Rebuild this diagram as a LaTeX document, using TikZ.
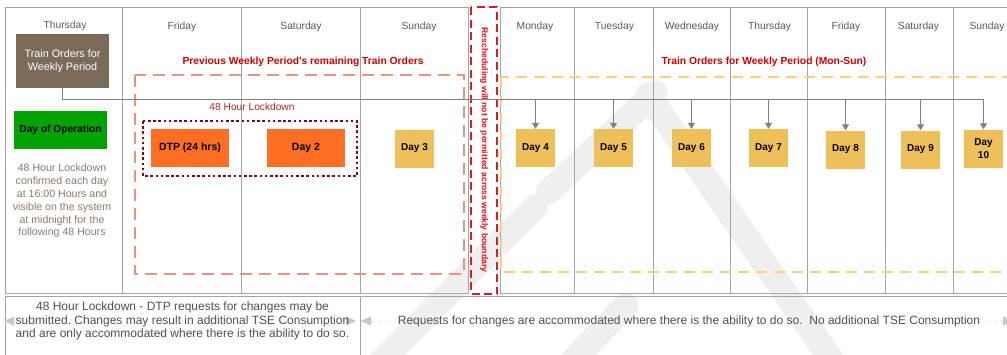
\documentclass[tikz,border=0pt]{standalone}
\usepackage{fontspec}
\setmainfont{Liberation Sans}
\usetikzlibrary{arrows.meta}
\definecolor{gridc}{RGB}{165,165,165}
\definecolor{hdrc}{RGB}{90,90,90}
\definecolor{brownc}{RGB}{123,107,89}
\definecolor{greenc}{RGB}{0,163,0}
\definecolor{orangec}{RGB}{255,110,35}
\definecolor{dayc}{RGB}{237,192,90}
\definecolor{redt}{RGB}{210,0,0}
\definecolor{redv}{RGB}{232,10,20}
\definecolor{dkred}{RGB}{128,10,10}
\definecolor{lockt}{RGB}{165,40,40}
\definecolor{salmonc}{RGB}{228,150,128}
\definecolor{lorange}{RGB}{255,205,130}
\definecolor{redbox}{RGB}{215,30,40}
\definecolor{arrowc}{RGB}{128,128,128}
\definecolor{explc}{RGB}{140,122,104}
\definecolor{bgc}{RGB}{200,200,200}
\definecolor{btext}{RGB}{80,80,80}
\definecolor{wmc}{RGB}{239,239,239}
\frenchspacing
\tikzset{
  gridline/.style={draw=gridc, line width=1pt},
  hdr/.style={text=hdrc, font=\fontsize{10.3}{12}\selectfont, inner sep=0pt},
  daybox/.style={fill=dayc, minimum width=39pt, minimum height=38pt, inner sep=0pt,
    font=\bfseries\fontsize{10}{12.5}\selectfont, align=center},
  orbox/.style={fill=orangec, minimum width=78pt, minimum height=38pt, inner sep=0pt,
    font=\bfseries\fontsize{10.5}{12}\selectfont},
  conn/.style={draw=arrowc, line width=1pt, -{Triangle[width=7pt,length=6pt]}},
  bgtip/.style={draw=bgc, line width=1pt, -{Triangle[width=9pt,length=10pt]}},
  bgdot/.style={draw=bgc, line width=1pt, dash pattern=on 1pt off 5pt},
  wmk/.style={draw=wmc, line width=25pt, line cap=round},
  redtitle/.style={text=redt, font=\bfseries\fontsize{10.3}{12}\selectfont, inner sep=0pt},
  btxt/.style={text=btext, font=\fontsize{12}{13.6}\selectfont, align=center, inner sep=0pt}
}
\begin{document}
\begin{tikzpicture}[x=1pt,y=-1pt]
\useasboundingbox (0,0) rectangle (1007,354);
\clip (0,0) rectangle (1007,354);
\fill[white] (0,0) rectangle (1007,354);
% watermark
\draw[wmk] (655,93) -- (548,192);
\draw[wmk] (648,95) -- (835,365);
\draw[wmk] (535,207) -- (355,387);
\draw[wmk] (626,305) -- (566,368);
% grid
\draw[gridline] (5,7) rectangle (468,293);
\foreach \x in {122,241,360} \draw[gridline] (\x,7) -- (\x,293);
\draw[gridline] (1012,7) -- (500,7) -- (500,293) -- (1012,293);
\foreach \x in {574,653,730,807,885,953} \draw[gridline] (\x,7) -- (\x,293);
\draw[gridline] (5,362) -- (5,296) -- (1012,296);
\draw[gridline] (360,296) -- (360,362);
% headers
\node[hdr] (hthu) at (65,26) {Thursday};
\node[hdr] (hfri) at (182,27) {Friday};
\node[hdr] (hsat) at (301,27) {Saturday};
\node[hdr] (hsun) at (419,27) {Sunday};
\node[hdr] (hmon) at (535,27) {Monday};
\node[hdr] (htue) at (614.5,27) {Tuesday};
\node[hdr] (hwed) at (692,27) {Wednesday};
\node[hdr] (hthu2) at (769.5,27) {Thursday};
\node[hdr] (hfri2) at (846,27) {Friday};
\node[hdr] (hsat2) at (918.5,27) {Saturday};
\node[hdr] (hsun2) at (987,27) {Sunday};
% dashed regions
\draw[salmonc, line width=1.5pt, dash pattern=on 12pt off 7pt] (135,75) rectangle (464,274);
\draw[lorange, line width=1.5pt, dash pattern=on 11pt off 7pt] (501,77) rectangle (1030,272);
\draw[redbox, line width=1.8pt, dash pattern=on 8pt off 4.5pt] (471,7) rectangle (497,294);
\draw[dkred, line width=2.6pt, dash pattern=on 2.6pt off 2.6pt] (143,121) rectangle (357,176);
% titles
\node[redtitle] (prevt) at (303,62) {Previous Weekly Period's remaining Train Orders};
\node[redtitle] (curt) at (764,62) {Train Orders for Weekly Period (Mon-Sun)};
\node[text=redv, font=\bfseries\fontsize{8.6}{10}\selectfont, rotate=-90, inner sep=0pt] (resch) at (484,150)
  {Rescheduling will not be permitted across weekly boundary};
\node[text=lockt, font=\fontsize{10.2}{12}\selectfont, inner sep=0pt] (lockt) at (252,107) {48 Hour Lockdown};
% left column
\node[fill=brownc, minimum width=93pt, minimum height=54pt, inner sep=0pt, text=white,
  align=center, font=\fontsize{10.8}{13.5}\selectfont] (train) at (62.5,61) {Train Orders for\\Weekly Period};
\node[fill=greenc, minimum width=93pt, minimum height=38pt, inner sep=0pt,
  font=\bfseries\fontsize{10.2}{12}\selectfont] (dop) at (60.5,130) {Day of Operation};
\node[text=explc, align=center, font=\fontsize{10.6}{12.9}\selectfont, inner sep=0pt] (expl) at (62,201)
  {48 Hour Lockdown\\confirmed each day\\at 16:00 Hours and\\visible on the system\\at midnight for the\\following 48 Hours};
% day boxes
\node[orbox] (dtp) at (190,148) {DTP (24 hrs)};
\node[orbox] (d2) at (306,148) {Day 2};
\node[daybox] (d3) at (414.5,148.5) {Day 3};
\node[daybox] (d4) at (535.5,148) {Day 4};
\node[daybox] (d5) at (613.5,148) {Day 5};
\node[daybox] (d6) at (691.5,148) {Day 6};
\node[daybox] (d7) at (768.5,148) {Day 7};
\node[daybox] (d8) at (845.5,149.5) {Day 8};
\node[daybox] (d9) at (920.5,149.5) {Day 9};
\node[daybox] (d10) at (983.5,148.5) {Day\\10};
% connectors
\coordinate (bus) at (0,99);
\draw[conn] (train.south) -- (train.south |- bus) -| (d10.north);
\foreach \d in {d4,d5,d6,d7,d8,d9} \draw[conn] (\d.north |- bus) -- (\d.north);
% bottom row arrows (behind text)
\coordinate (la) at (4,321);
\coordinate (lb) at (356,321);
\coordinate (ra) at (361,321);
\coordinate (rb) at (1013,321);
\draw[bgdot] (ra) -- ([xshift=30pt]ra);
\draw[bgdot] ([xshift=-24pt]rb) -- (rb);
\draw[bgtip] ([xshift=10pt]la) -- (la);
\draw[bgtip] ([xshift=-10pt]lb) -- (lb);
\draw[bgtip] ([xshift=10pt]ra) -- (ra);
\draw[bgtip] ([xshift=-10pt]rb) -- (rb);
% bottom row texts
\node[btxt] (lt) at (182.5,321) {48 Hour Lockdown - DTP requests for changes may be\\submitted. Changes may result in additional TSE Consumption\\and are only accommodated where there is the ability to do so.};
\node[btxt] (rt) at (689,321) {Requests for changes are accommodated where there is the ability to do so.\ \ No additional TSE Consumption};
\end{tikzpicture}
\end{document}
